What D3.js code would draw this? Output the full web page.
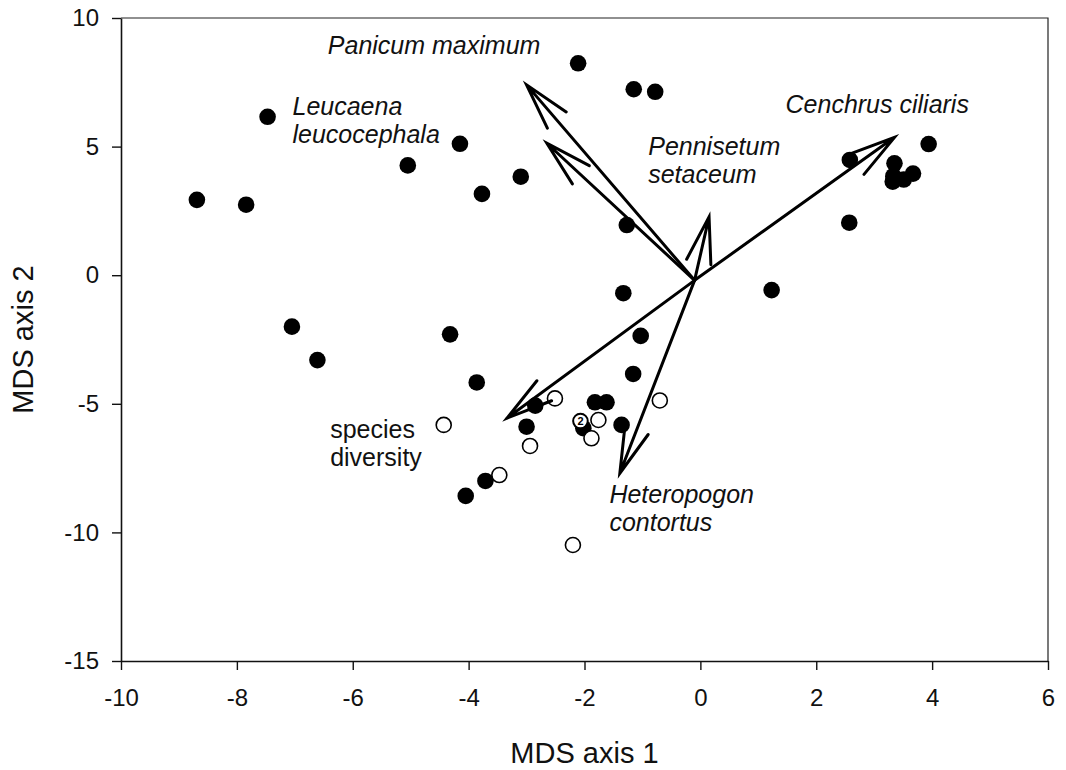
<!DOCTYPE html>
<html>
<head>
<meta charset="utf-8">
<script src="https://cdn.jsdelivr.net/npm/d3@7"></script>
<style>
  body { margin: 0; background: #fff; }
  svg { font-family: "Liberation Sans", Arial, sans-serif; }
</style>
</head>
<body>
<svg id="chart" width="1066" height="770"></svg>
<script>
// MDS site scores, filled = one group, open = the other
const filledX = [-8.69, -7.84, -7.47, -5.05, -4.15, -3.77, -3.10, -2.11, -1.15, -0.78,
  3.94, 2.58, 3.35, 3.33, 3.32, 3.51, 3.67, 2.57, -1.27, -1.33, 1.23,
  -7.05, -6.61, -4.32, -3.86, -1.03, -1.16, -2.85, -3.00, -1.82, -1.62, -2.02, -1.36,
  -3.71, -4.05];
const filledY = [2.93, 2.74, 6.16, 4.27, 5.11, 3.16, 3.83, 8.24, 7.23, 7.13,
  5.10, 4.48, 4.35, 3.85, 3.64, 3.72, 3.95, 2.04, 1.95, -0.70, -0.58,
  -2.00, -3.30, -2.30, -4.17, -2.36, -3.84, -5.07, -5.89, -4.94, -4.94, -5.95, -5.82,
  -8.00, -8.58];

const openX = [-4.43, -2.51, -2.94, -3.47, -2.20, -1.76, -1.88, -0.70];
const openY = [-5.82, -4.79, -6.64, -7.77, -10.49, -5.63, -6.34, -4.87];

// overlapping sites shown with a count
const countX = [-2.07];
const countY = [-5.67];
const countN = ["2"];

// species / diversity vectors (common origin)
const vecOrigin = [-0.1, -0.2];
const vecNames = ["Panicum maximum", "Leucaena leucocephala", "Pennisetum setaceum",
  "Cenchrus ciliaris", "species diversity", "Heteropogon contortus"];
const vecX = [-3.00, -2.65, 0.15, 3.35, -3.34, -1.39];
const vecY = [7.40, 5.13, 2.27, 5.36, -5.56, -7.70];

// label text lines and where they sit (data units, first baseline)
const labelLines = [["Panicum maximum"], ["Leucaena", "leucocephala"], ["Pennisetum", "setaceum"],
  ["Cenchrus ciliaris"], ["species", "diversity"], ["Heteropogon", "contortus"]];
const labelX = [-6.43, -7.04, -0.90, 1.47, -6.39, -1.57];
const labelY = [8.60, 6.23, 4.67, 6.32, -6.34, -8.85];
const labelItalic = [true, true, true, true, false, true];

const xTicks = [-10, -8, -6, -4, -2, 0, 2, 4, 6];
const yTicks = [10, 5, 0, -5, -10, -15];

const svg = d3.select("#chart");
const plotL = 121, plotR = 1048, plotT = 18, plotB = 661;

const x = d3.scaleLinear().domain([-10, 6]).range([plotL, plotR]);
const y = d3.scaleLinear().domain([-15, 10]).range([plotB, plotT]);

// frame top / right
svg.append("path")
  .attr("d", `M${plotL},${plotT}H${plotR}V${plotB}`)
  .attr("fill", "none")
  .attr("stroke", "#222")
  .attr("stroke-width", 1.2);

// plain hyphen for negatives, like the original
const fmt = d => String(d);
const xAxis = d3.axisBottom(x).tickValues(xTicks).tickFormat(fmt).tickSize(9).tickPadding(19).tickSizeOuter(0);
const gx = svg.append("g").attr("transform", `translate(0,${plotB})`).call(xAxis);
const yAxis = d3.axisLeft(y).tickValues(yTicks).tickFormat(fmt).tickSize(9).tickPadding(13).tickSizeOuter(0);
const gy = svg.append("g").attr("transform", `translate(${plotL},0)`).call(yAxis);

[gx, gy].forEach(g => {
  g.select(".domain").attr("stroke", "#111").attr("stroke-width", 1.6);
  g.selectAll(".tick line").attr("stroke", "#111").attr("stroke-width", 1.4);
  g.selectAll(".tick text")
    .attr("fill", "#111")
    .style("font-size", "24px")
    .style("font-family", "'Liberation Sans', Arial, sans-serif");
});

svg.append("text")
  .attr("x", (plotL + plotR) / 2)
  .attr("y", 763)
  .attr("text-anchor", "middle")
  .style("font-size", "29px")
  .attr("fill", "#111")
  .text("MDS axis 1");

svg.append("text")
  .attr("transform", `translate(33,${(plotT + plotB) / 2}) rotate(-90)`)
  .attr("text-anchor", "middle")
  .style("font-size", "29px")
  .attr("fill", "#111")
  .text("MDS axis 2");

// filled points
svg.append("g").selectAll("circle")
  .data(filledX.map((d, i) => [d, filledY[i]]))
  .join("circle")
  .attr("cx", d => x(d[0]))
  .attr("cy", d => y(d[1]))
  .attr("r", 8.3)
  .attr("fill", "#000");

// open points
svg.append("g").selectAll("circle")
  .data(openX.map((d, i) => [d, openY[i]]))
  .join("circle")
  .attr("cx", d => x(d[0]))
  .attr("cy", d => y(d[1]))
  .attr("r", 7.5)
  .attr("fill", "#fff")
  .attr("stroke", "#000")
  .attr("stroke-width", 1.6);

const cnt = svg.append("g").selectAll("g")
  .data(countX.map((d, i) => [d, countY[i], countN[i]]))
  .join("g")
  .attr("transform", d => `translate(${x(d[0])},${y(d[1])})`);
cnt.append("circle").attr("r", 7.3).attr("fill", "#fff").attr("stroke", "#000").attr("stroke-width", 2);
cnt.append("text")
  .attr("text-anchor", "middle")
  .attr("dy", "0.36em")
  .style("font-size", "11px")
  .style("font-weight", "bold")
  .text(d => d[2]);

// vectors with open arrowheads
const headLen = 48, headAng = 15 * Math.PI / 180;
const ox = x(vecOrigin[0]), oy = y(vecOrigin[1]);
svg.append("g").selectAll("path")
  .data(vecX.map((d, i) => [d, vecY[i]]))
  .join("path")
  .attr("d", d => {
    const tx = x(d[0]), ty = y(d[1]);
    const a = Math.atan2(oy - ty, ox - tx);
    const b1x = tx + headLen * Math.cos(a + headAng), b1y = ty + headLen * Math.sin(a + headAng);
    const b2x = tx + headLen * Math.cos(a - headAng), b2y = ty + headLen * Math.sin(a - headAng);
    return `M${ox},${oy}L${tx},${ty}M${b1x},${b1y}L${tx},${ty}L${b2x},${b2y}`;
  })
  .attr("fill", "none")
  .attr("stroke", "#000")
  .attr("stroke-width", 3)
  .attr("stroke-linecap", "round")
  .attr("stroke-linejoin", "miter");

// vector labels
const lab = svg.append("g").selectAll("text")
  .data(labelLines.map((d, i) => ({ lines: d, x: labelX[i], y: labelY[i], it: labelItalic[i] })))
  .join("text")
  .attr("x", d => x(d.x))
  .attr("y", d => y(d.y))
  .style("font-size", "25px")
  .style("font-style", d => d.it ? "italic" : "normal")
  .attr("fill", "#111");
lab.selectAll("tspan")
  .data(d => d.lines.map(l => ({ l, x: d.x })))
  .join("tspan")
  .attr("x", d => x(d.x))
  .attr("dy", (d, i) => i === 0 ? 0 : 28)
  .text(d => d.l);
</script>
</body>
</html>
